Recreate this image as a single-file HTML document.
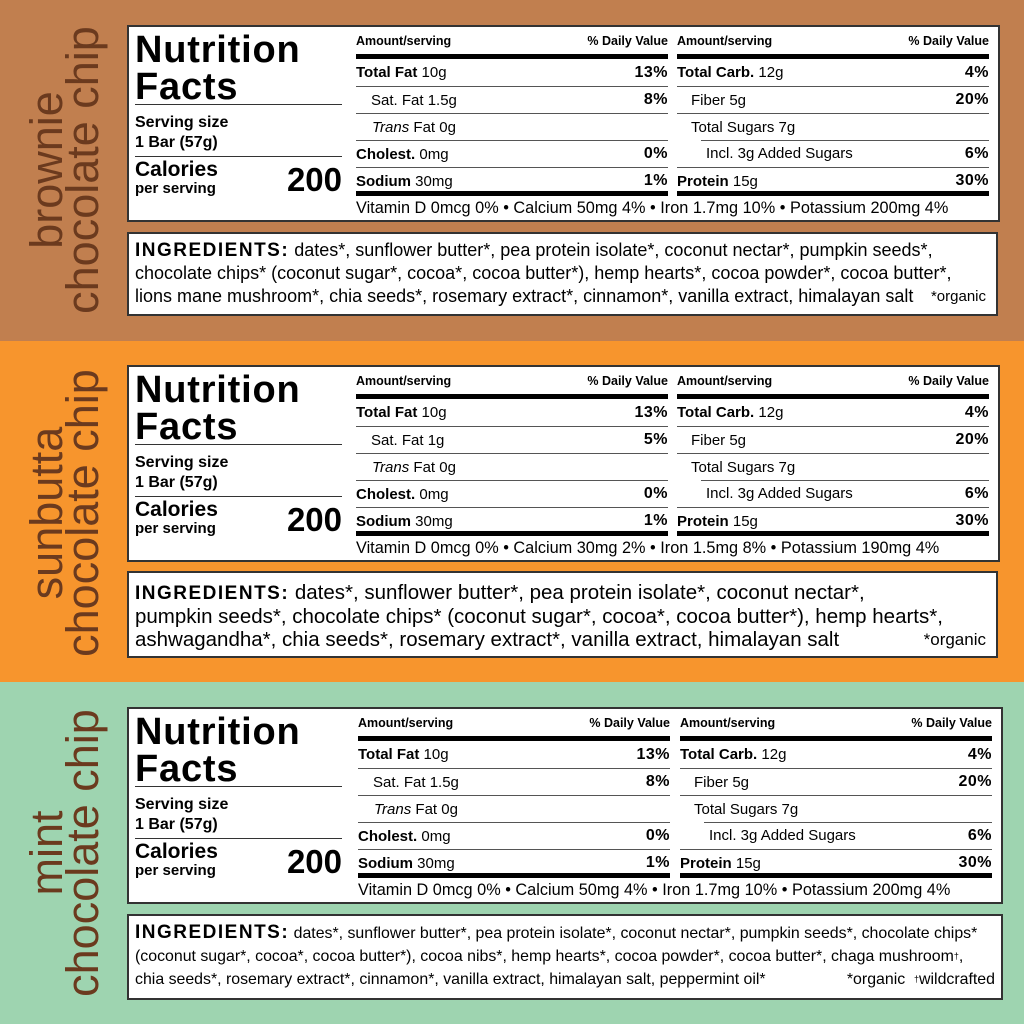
<!DOCTYPE html>
<html><head><meta charset="utf-8"><style>
*{margin:0;padding:0;box-sizing:border-box}
body{width:1024px;height:1024px;position:relative;overflow:hidden;font-family:"Liberation Sans",Arial,sans-serif;color:#000}
.band{position:absolute;left:0;width:1024px}
.vt{position:absolute;left:-85px;width:300px;height:72px;transform:rotate(-90deg);text-align:center;line-height:36px;font-size:45px;color:#6b3a1e;white-space:nowrap}
.box{position:absolute;left:127px;top:25px;width:873px;height:197px;background:#fff;border:2px solid #333}
.lc{position:absolute;left:6px;top:0;width:207px;height:190px}
.nf{position:absolute;left:0;font-weight:bold;font-size:38px;letter-spacing:0.8px;line-height:36px}
.rule{position:absolute;left:0;width:207px;height:1px;background:#333}
.col{position:absolute;top:0;width:312px;height:190px}
.hd{position:absolute;top:7px;left:0;right:0;display:flex;justify-content:space-between;font-weight:bold;font-size:12.5px}
.tb{position:absolute;left:0;right:0;height:5px;background:#000}
.r{position:absolute;left:0;right:0;height:27px;display:flex;justify-content:space-between;align-items:center;font-size:15px;white-space:nowrap}
.r.bt{border-top:1px solid #555}
.r .p{font-weight:bold;font-size:16px;letter-spacing:.5px}
.sep{position:absolute;right:0;height:1px;background:#555}
.vit{position:absolute;left:227px;top:172px;font-size:16.3px;white-space:nowrap}
.ing{position:absolute;left:127px;top:232px;width:871px;height:84px;background:#fff;border:2px solid #333;padding:5px 0 0 6px;white-space:nowrap}
.ing b{font-weight:bold;letter-spacing:1.5px}
sup{line-height:0;position:relative;top:-2px;vertical-align:baseline}
</style></head><body>

<!-- Panel 1 -->
<div class="band" style="top:0;height:341px;background:#c17f4f">
 <div class="vt" style="top:134px">brownie<br>chocolate chip</div>
 <div class="box">
  <div class="lc">
   <div class="nf" style="top:5px">Nutrition</div>
   <div class="nf" style="top:42px">Facts</div>
   <div class="rule" style="top:77px"></div>
   <div style="position:absolute;top:86px;font-weight:bold;font-size:16px;line-height:20px">Serving size<br>1 Bar (57g)</div>
   <div class="rule" style="top:129px"></div>
   <div style="position:absolute;top:132px;font-weight:bold;font-size:21px;line-height:22px">Calories</div>
   <div style="position:absolute;top:153px;font-weight:bold;font-size:15px">per serving</div>
   <div style="position:absolute;right:0;top:134px;font-weight:bold;font-size:33px">200</div>
  </div>
  <div class="col" style="left:227px">
   <div class="hd"><span>Amount/serving</span><span>% Daily Value</span></div>
   <div class="tb" style="top:27px"></div>
   <div class="r" style="top:32px"><span><b>Total Fat</b> 10g</span><span class="p">13%</span></div>
   <div class="r bt" style="top:59px"><span style="padding-left:15px">Sat. Fat 1.5g</span><span class="p">8%</span></div>
   <div class="r bt" style="top:86px"><span style="padding-left:16px"><i>Trans</i> Fat 0g</span><span></span></div>
   <div class="r bt" style="top:113px"><span><b>Cholest.</b> 0mg</span><span class="p">0%</span></div>
   <div class="r bt" style="top:140px"><span><b>Sodium</b> 30mg</span><span class="p">1%</span></div>
   <div class="tb" style="top:164px"></div>
  </div>
  <div class="col" style="left:548px">
   <div class="hd"><span>Amount/serving</span><span>% Daily Value</span></div>
   <div class="tb" style="top:27px"></div>
   <div class="r" style="top:32px"><span><b>Total Carb.</b> 12g</span><span class="p">4%</span></div>
   <div class="r bt" style="top:59px"><span style="padding-left:14px">Fiber 5g</span><span class="p">20%</span></div>
   <div class="r bt" style="top:86px"><span style="padding-left:14px">Total Sugars 7g</span><span></span></div>
   <div class="sep" style="top:113px;left:24px"></div>
   <div class="r" style="top:113px"><span style="padding-left:29px">Incl. 3g Added Sugars</span><span class="p">6%</span></div>
   <div class="r bt" style="top:140px"><span><b>Protein</b> 15g</span><span class="p">30%</span></div>
   <div class="tb" style="top:164px"></div>
  </div>
  <div class="vit">Vitamin D 0mcg 0% • Calcium 50mg 4% • Iron 1.7mg 10% • Potassium 200mg 4%</div>
 </div>
 <div class="ing" style="font-size:18px;line-height:23px"><b style="font-size:19px">INGREDIENTS:</b> dates*, sunflower butter*, pea protein isolate*, coconut nectar*, pumpkin seeds*,<br>chocolate chips* (coconut sugar*, cocoa*, cocoa butter*), hemp hearts*, cocoa powder*, cocoa butter*,<br>lions mane mushroom*, chia seeds*, rosemary extract*, cinnamon*, vanilla extract, himalayan salt<span style="position:absolute;right:10px;font-size:15px">*organic</span></div>
</div>

<!-- Panel 2 -->
<div class="band" style="top:341px;height:341px;background:#f7952d">
 <div class="vt" style="top:136px">sunbutta<br>chocolate chip</div>
 <div class="box" style="top:24px">
  <div class="lc">
   <div class="nf" style="top:5px">Nutrition</div>
   <div class="nf" style="top:42px">Facts</div>
   <div class="rule" style="top:77px"></div>
   <div style="position:absolute;top:86px;font-weight:bold;font-size:16px;line-height:20px">Serving size<br>1 Bar (57g)</div>
   <div class="rule" style="top:129px"></div>
   <div style="position:absolute;top:132px;font-weight:bold;font-size:21px;line-height:22px">Calories</div>
   <div style="position:absolute;top:153px;font-weight:bold;font-size:15px">per serving</div>
   <div style="position:absolute;right:0;top:134px;font-weight:bold;font-size:33px">200</div>
  </div>
  <div class="col" style="left:227px">
   <div class="hd"><span>Amount/serving</span><span>% Daily Value</span></div>
   <div class="tb" style="top:27px"></div>
   <div class="r" style="top:32px"><span><b>Total Fat</b> 10g</span><span class="p">13%</span></div>
   <div class="r bt" style="top:59px"><span style="padding-left:15px">Sat. Fat 1g</span><span class="p">5%</span></div>
   <div class="r bt" style="top:86px"><span style="padding-left:16px"><i>Trans</i> Fat 0g</span><span></span></div>
   <div class="r bt" style="top:113px"><span><b>Cholest.</b> 0mg</span><span class="p">0%</span></div>
   <div class="r bt" style="top:140px"><span><b>Sodium</b> 30mg</span><span class="p">1%</span></div>
   <div class="tb" style="top:164px"></div>
  </div>
  <div class="col" style="left:548px">
   <div class="hd"><span>Amount/serving</span><span>% Daily Value</span></div>
   <div class="tb" style="top:27px"></div>
   <div class="r" style="top:32px"><span><b>Total Carb.</b> 12g</span><span class="p">4%</span></div>
   <div class="r bt" style="top:59px"><span style="padding-left:14px">Fiber 5g</span><span class="p">20%</span></div>
   <div class="r bt" style="top:86px"><span style="padding-left:14px">Total Sugars 7g</span><span></span></div>
   <div class="sep" style="top:113px;left:24px"></div>
   <div class="r" style="top:113px"><span style="padding-left:29px">Incl. 3g Added Sugars</span><span class="p">6%</span></div>
   <div class="r bt" style="top:140px"><span><b>Protein</b> 15g</span><span class="p">30%</span></div>
   <div class="tb" style="top:164px"></div>
  </div>
  <div class="vit">Vitamin D 0mcg 0% • Calcium 30mg 2% • Iron 1.5mg 8% • Potassium 190mg 4%</div>
 </div>
 <div class="ing" style="top:230px;height:87px;padding-top:8px;font-size:20.5px;line-height:23px"><b style="font-size:19px">INGREDIENTS:</b> dates*, sunflower butter*, pea protein isolate*, coconut nectar*,<br>pumpkin seeds*, chocolate chips* (coconut sugar*, cocoa*, cocoa butter*), hemp hearts*,<br>ashwagandha*, chia seeds*, rosemary extract*, vanilla extract, himalayan salt<span style="position:absolute;right:10px;font-size:17px">*organic</span></div>
</div>

<!-- Panel 3 -->
<div class="band" style="top:682px;height:342px;background:#9ed4b0">
 <div class="vt" style="top:135px">mint<br>chocolate chip</div>
 <div class="box" style="width:876px">
  <div class="lc">
   <div class="nf" style="top:5px">Nutrition</div>
   <div class="nf" style="top:42px">Facts</div>
   <div class="rule" style="top:77px"></div>
   <div style="position:absolute;top:86px;font-weight:bold;font-size:16px;line-height:20px">Serving size<br>1 Bar (57g)</div>
   <div class="rule" style="top:129px"></div>
   <div style="position:absolute;top:132px;font-weight:bold;font-size:21px;line-height:22px">Calories</div>
   <div style="position:absolute;top:153px;font-weight:bold;font-size:15px">per serving</div>
   <div style="position:absolute;right:0;top:134px;font-weight:bold;font-size:33px">200</div>
  </div>
  <div class="col" style="left:229px">
   <div class="hd"><span>Amount/serving</span><span>% Daily Value</span></div>
   <div class="tb" style="top:27px"></div>
   <div class="r" style="top:32px"><span><b>Total Fat</b> 10g</span><span class="p">13%</span></div>
   <div class="r bt" style="top:59px"><span style="padding-left:15px">Sat. Fat 1.5g</span><span class="p">8%</span></div>
   <div class="r bt" style="top:86px"><span style="padding-left:16px"><i>Trans</i> Fat 0g</span><span></span></div>
   <div class="r bt" style="top:113px"><span><b>Cholest.</b> 0mg</span><span class="p">0%</span></div>
   <div class="r bt" style="top:140px"><span><b>Sodium</b> 30mg</span><span class="p">1%</span></div>
   <div class="tb" style="top:164px"></div>
  </div>
  <div class="col" style="left:551px">
   <div class="hd"><span>Amount/serving</span><span>% Daily Value</span></div>
   <div class="tb" style="top:27px"></div>
   <div class="r" style="top:32px"><span><b>Total Carb.</b> 12g</span><span class="p">4%</span></div>
   <div class="r bt" style="top:59px"><span style="padding-left:14px">Fiber 5g</span><span class="p">20%</span></div>
   <div class="r bt" style="top:86px"><span style="padding-left:14px">Total Sugars 7g</span><span></span></div>
   <div class="sep" style="top:113px;left:24px"></div>
   <div class="r" style="top:113px"><span style="padding-left:29px">Incl. 3g Added Sugars</span><span class="p">6%</span></div>
   <div class="r bt" style="top:140px"><span><b>Protein</b> 15g</span><span class="p">30%</span></div>
   <div class="tb" style="top:164px"></div>
  </div>
  <div class="vit" style="left:229px">Vitamin D 0mcg 0% • Calcium 50mg 4% • Iron 1.7mg 10% • Potassium 200mg 4%</div>
 </div>
 <div class="ing" style="width:876px;height:86px;font-size:15.9px;line-height:23px"><b style="font-size:19px">INGREDIENTS:</b> dates*, sunflower butter*, pea protein isolate*, coconut nectar*, pumpkin seeds*, chocolate chips*<br>(coconut sugar*, cocoa*, cocoa butter*), cocoa nibs*, hemp hearts*, cocoa powder*, cocoa butter*, chaga mushroom<sup style="font-size:9px">†</sup>,<br>chia seeds*, rosemary extract*, cinnamon*, vanilla extract, himalayan salt, peppermint oil*<span style="position:absolute;right:6px">*organic &nbsp;<sup style="font-size:9px">†</sup>wildcrafted</span></div>
</div>

</body></html>
